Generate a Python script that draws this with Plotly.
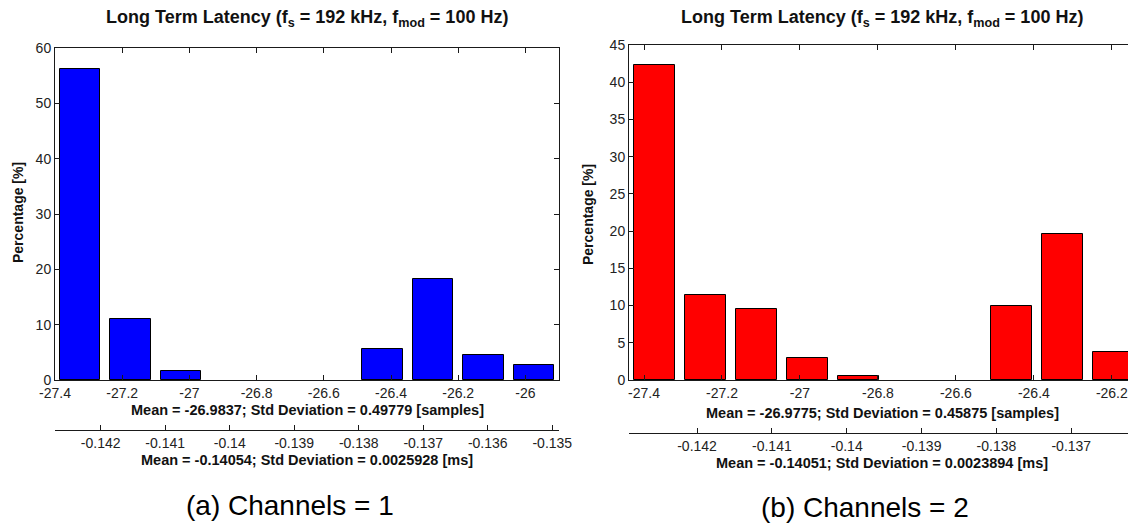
import plotly.graph_objects as go

# ---------------- data ----------------
FS_KHZ = 192.0  # samples per ms

left_centers = [-27.325, -27.175, -27.025, -26.875, -26.725, -26.575, -26.425, -26.275, -26.125, -25.975]
left_pct = [56.2, 11.0, 1.7, 0.0, 0.0, 0.0, 5.6, 18.3, 4.6, 2.7]
left_binw = 0.15
left_range = [-27.4, -25.9]
left_xticks = [-27.4, -27.2, -27.0, -26.8, -26.6, -26.4, -26.2, -26.0]
left_xticklabels = ["-27.4", "-27.2", "-27", "-26.8", "-26.6", "-26.4", "-26.2", "-26"]
left_msticks = [-0.142, -0.141, -0.140, -0.139, -0.138, -0.137, -0.136, -0.135]
left_mslabels = ["-0.142", "-0.141", "-0.14", "-0.139", "-0.138", "-0.137", "-0.136", "-0.135"]
left_yticks = [0, 10, 20, 30, 40, 50, 60]

right_centers = [-27.373, -27.242, -27.111, -26.980, -26.850, -26.719, -26.588, -26.457, -26.326, -26.196]
right_pct = [42.3, 11.4, 9.6, 2.9, 0.6, 0.0, 0.0, 10.0, 19.6, 3.8]
right_binw = 0.1308
right_range = [-27.4385, -26.138]
right_xticks = [-27.4, -27.2, -27.0, -26.8, -26.6, -26.4, -26.2]
right_xticklabels = ["-27.4", "-27.2", "-27", "-26.8", "-26.6", "-26.4", "-26.2"]
right_msticks = [-0.142, -0.141, -0.140, -0.139, -0.138, -0.137]
right_mslabels = ["-0.142", "-0.141", "-0.14", "-0.139", "-0.138", "-0.137"]
right_yticks = [0, 5, 10, 15, 20, 25, 30, 35, 40, 45]

title_text = "<b>Long Term Latency (f<sub>s</sub> = 192 kHz, f<sub>mod</sub> = 100 Hz)</b>"
left_samp_title = "<b>Mean = -26.9837; Std Deviation = 0.49779 [samples]</b>"
left_ms_title = "<b>Mean = -0.14054; Std Deviation = 0.0025928 [ms]</b>"
right_samp_title = "<b>Mean = -26.9775; Std Deviation = 0.45875 [samples]</b>"
right_ms_title = "<b>Mean = -0.14051; Std Deviation = 0.0023894 [ms]</b>"
ytitle = "<b>Percentage [%]</b>"
captions = ["(a) Channels = 1", "(b) Channels = 2"]

# ---------------- layout helpers ----------------
W, H = 1136, 525
OFF = 8  # page body margin of the html page
FONT = "Liberation Sans, Arial, Helvetica, sans-serif"
AX = "#1a1a1a"


def px(x):
    return (x - OFF) / W


def py(y):
    return 1 - (y - OFF) / H


L_dom = [px(55), px(559)]
L_ydom = [py(380), py(48)]
R_dom = [px(629), px(1136)]
R_ydom = [py(380), py(45)]

fig = go.Figure()

fig.add_trace(go.Bar(
    x=left_centers, y=left_pct, width=[left_binw * 0.8] * len(left_centers),
    marker=dict(color="#0000FF",
                line=dict(color="#000000", width=[1 if v > 0 else 0 for v in left_pct])),
    xaxis="x", yaxis="y", showlegend=False, hoverinfo="x+y"))
fig.add_trace(go.Scatter(
    x=[c / FS_KHZ for c in left_centers], y=left_pct, mode="markers",
    marker=dict(opacity=0), xaxis="x3", yaxis="y", showlegend=False, hoverinfo="skip"))

fig.add_trace(go.Bar(
    x=right_centers, y=right_pct, width=[right_binw * 0.8] * len(right_centers),
    marker=dict(color="#FF0000",
                line=dict(color="#000000", width=[1 if v > 0 else 0 for v in right_pct])),
    xaxis="x2", yaxis="y2", showlegend=False, hoverinfo="x+y"))
fig.add_trace(go.Scatter(
    x=[c / FS_KHZ for c in right_centers], y=right_pct, mode="markers",
    marker=dict(opacity=0), xaxis="x4", yaxis="y2", showlegend=False, hoverinfo="skip"))

tickfont = dict(family=FONT, size=14, color="#222222")

common_x = dict(showline=True, linecolor=AX, linewidth=1, mirror="ticks", ticks="inside",
                ticklen=5, tickcolor=AX, showgrid=False, zeroline=False, tickfont=tickfont,
                automargin=False)
common_y = dict(showline=True, linecolor=AX, linewidth=1, mirror="ticks", ticks="inside",
                ticklen=5, tickcolor=AX, showgrid=False, zeroline=False, tickfont=tickfont,
                automargin=False)
common_ms = dict(showline=True, linecolor=AX, linewidth=1, ticks="inside", ticklen=5,
                 tickcolor=AX, showgrid=False, zeroline=False, tickfont=tickfont,
                 side="bottom", anchor="free", automargin=False)

fig.update_layout(
    width=W, height=H,
    margin=dict(l=0, r=0, t=0, b=0, pad=0, autoexpand=False),
    paper_bgcolor="white", plot_bgcolor="white",
    bargap=0,
    xaxis=dict(domain=L_dom, anchor="y", range=left_range, tickmode="array",
               tickvals=left_xticks, ticktext=left_xticklabels, **common_x),
    yaxis=dict(domain=L_ydom, anchor="x", range=[0, 60], tickmode="array",
               tickvals=left_yticks, **common_y),
    xaxis3=dict(overlaying="x", position=py(430),
                range=[left_range[0] / FS_KHZ, left_range[1] / FS_KHZ], tickmode="array",
                tickvals=left_msticks, ticktext=left_mslabels, **common_ms),
    xaxis2=dict(domain=R_dom, anchor="y2", range=right_range, tickmode="array",
                tickvals=right_xticks, ticktext=right_xticklabels, **common_x),
    yaxis2=dict(domain=R_ydom, anchor="x2", range=[0, 45], tickmode="array",
                tickvals=right_yticks, **common_y),
    xaxis4=dict(overlaying="x2", position=py(433),
                range=[right_range[0] / FS_KHZ, right_range[1] / FS_KHZ], tickmode="array",
                tickvals=right_msticks, ticktext=right_mslabels, **common_ms),
)

ann = []


def add_text(text, x, y, size, angle=0, color="#111111"):
    ann.append(dict(text=text, x=px(x), y=py(y), xref="paper", yref="paper",
                    xanchor="center", yanchor="middle", showarrow=False, textangle=angle,
                    font=dict(family=FONT, size=size, color=color)))


add_text(title_text, 307, 18, 18)
add_text(title_text, 882, 18, 18)
add_text(left_samp_title, 307, 410, 14.5)
add_text(left_ms_title, 307, 460, 14.5)
add_text(right_samp_title, 882, 413, 14.5)
add_text(right_ms_title, 882, 463, 14.5)
add_text(ytitle, 18, 213, 14, angle=-90)
add_text(ytitle, 588, 215, 14, angle=-90)
add_text(captions[0], 290, 505, 28, color="#000000")
add_text(captions[1], 865, 507, 28, color="#000000")

fig.update_layout(annotations=ann)

fig.write_html("out.html")
